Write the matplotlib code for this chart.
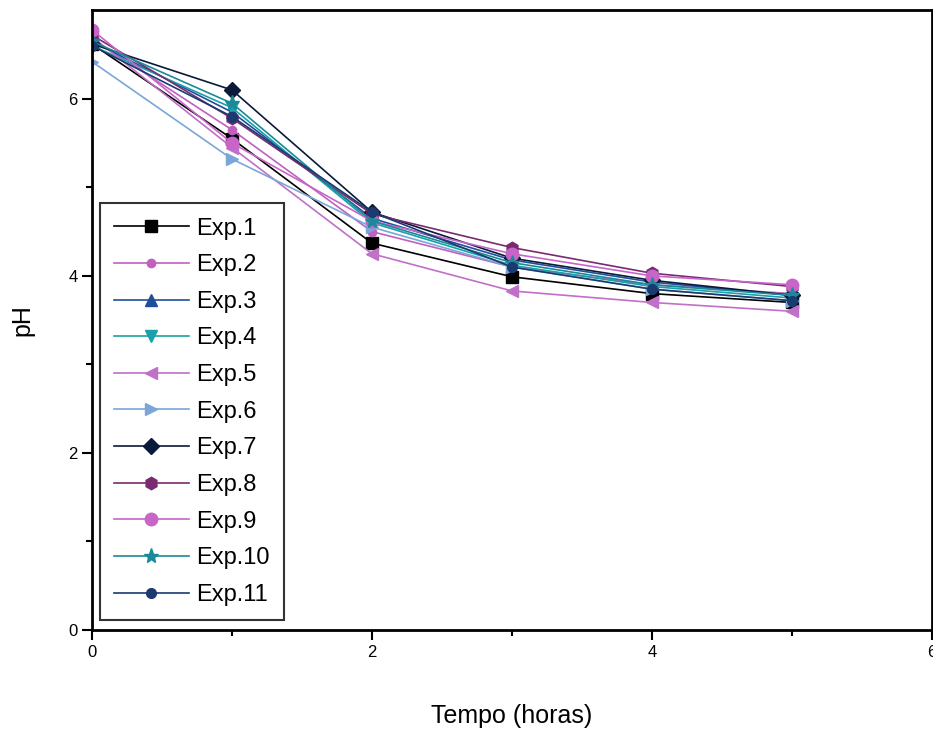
import matplotlib
matplotlib.use("Agg")
import matplotlib.pyplot as plt

plt.rcParams['font.family'] = ['Liberation Sans', 'DejaVu Sans']

tempo = [0, 1, 2, 3, 4, 5]
labels = ["Exp.1", "Exp.2", "Exp.3", "Exp.4", "Exp.5", "Exp.6",
          "Exp.7", "Exp.8", "Exp.9", "Exp.10", "Exp.11"]
exp1 = [6.62, 5.55, 4.37, 3.99, 3.80, 3.70]
exp2 = [6.68, 5.65, 4.50, 4.10, 3.90, 3.80]
exp3 = [6.65, 5.85, 4.65, 4.18, 3.93, 3.78]
exp4 = [6.60, 5.90, 4.60, 4.12, 3.88, 3.75]
exp5 = [6.70, 5.45, 4.25, 3.83, 3.70, 3.60]
exp6 = [6.42, 5.32, 4.55, 4.10, 3.85, 3.72]
exp7 = [6.62, 6.10, 4.72, 4.20, 3.95, 3.78]
exp8 = [6.72, 5.78, 4.70, 4.32, 4.03, 3.88]
exp9 = [6.78, 5.50, 4.62, 4.25, 4.00, 3.90]
exp10 = [6.65, 5.95, 4.62, 4.15, 3.90, 3.78]
exp11 = [6.60, 5.80, 4.72, 4.10, 3.85, 3.72]
series = [exp1, exp2, exp3, exp4, exp5, exp6, exp7, exp8, exp9, exp10, exp11]

colors = ["#000000", "#c060c0", "#1f4e9c", "#1aa0a8", "#c070c8", "#7aa6d8",
          "#0a1a3a", "#7a2a70", "#c865c8", "#1a8a98", "#1a3a70"]
markers = ["s", "o", "^", "v", "<", ">", "D", "h", "o", "*", "o"]
msizes = [8, 6, 9, 9, 9, 9, 8, 9, 9, 11, 7]

fig = plt.figure(figsize=(9.33, 7.29), dpi=100)
ax = fig.add_axes([0.0986, 0.1358, 0.9004, 0.850])

for ys, lab, c, m, ms in zip(series, labels, colors, markers, msizes):
    ax.plot(tempo, ys, color=c, marker=m, markersize=ms, linewidth=1.2, label=lab)

ax.set_xlim(0, 6)
ax.set_ylim(0, 7)
ax.set_xticks([0, 2, 4, 6])
ax.set_xticks([1, 3, 5], minor=True)
ax.set_yticks([0, 2, 4, 6])
ax.set_yticks([1, 3, 5], minor=True)
ax.tick_params(axis='both', which='major', length=7, width=1.5, labelsize=12, direction='out')
ax.tick_params(axis='both', which='minor', length=4, width=1.5, direction='out')
for s in ax.spines.values():
    s.set_linewidth(2)

ax.set_xlabel("Tempo (horas)", fontsize=18, labelpad=32)
ax.set_ylabel("pH", fontsize=18, labelpad=24)

leg = ax.legend(loc='lower left', bbox_to_anchor=(0.009, 0.016), fontsize=17,
                frameon=True, fancybox=False, edgecolor='black', handlelength=3.2,
                labelspacing=0.62, handletextpad=0.3, borderpad=0.6,
                borderaxespad=0)
leg.get_frame().set_linewidth(1.5)

fig.savefig("out.png", dpi=100)
